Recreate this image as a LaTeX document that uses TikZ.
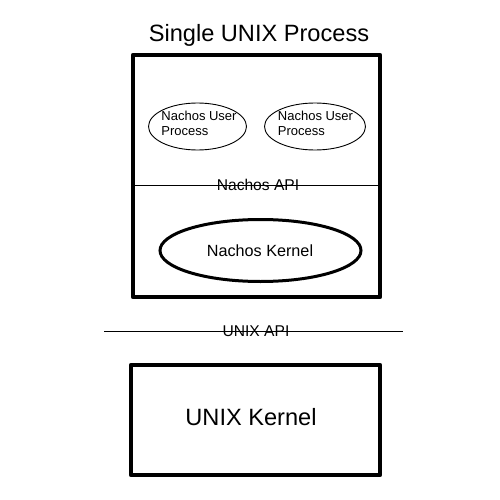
\documentclass[tikz,border=0pt]{standalone}
\usepackage{fontspec}
\setmainfont{Liberation Sans}
\usetikzlibrary{shapes.geometric}
\begin{document}
\begin{tikzpicture}[x=1pt,y=-1pt,
  thickbox/.style={draw,line width=4.2pt,line join=round},
  userproc/.style={draw,ellipse,line width=0.9pt,inner sep=0pt},
  kern/.style={draw,ellipse,line width=3pt,inner sep=0pt},
  apiline/.style={line width=0.9pt},
  utext/.style={inner sep=0pt,align=left,font=\fontsize{13}{15.2}\selectfont},
  lbl/.style={inner sep=0pt,font=\fontsize{15.6}{18}\selectfont},
  big/.style={inner sep=0pt,font=\fontsize{23.6}{28}\selectfont}]
\useasboundingbox (0,0) rectangle (500,500);
% title
\node[big] (title) at (259,35) {Single UNIX Process};
% outer process box
\draw[thickbox] (133,55) rectangle (380,297);
\coordinate (procL) at (133,185.7);
\coordinate (procR) at (380,185.7);
% user processes
\node[userproc,minimum width=98pt,minimum height=47pt] (up1) at (197.5,126.5) {};
\node[userproc,minimum width=101pt,minimum height=47pt] (up2) at (315,126.5) {};
\node[utext] (up1t) at (199,123.5) {Nachos User\\Process};
\node[utext] (up2t) at (315.5,123.5) {Nachos User\\Process};
% Nachos API
\node[lbl] (napi) at (258,185) {Nachos API};
\draw[apiline] (procL) -- (procR);
% Nachos kernel
\node[kern,minimum width=201pt,minimum height=62pt] (nk) at (260.5,250.5) {};
\node[inner sep=0pt,font=\fontsize{16.2}{19}\selectfont] (nkt) at (260,250.5) {Nachos Kernel};
% UNIX API
\coordinate (uapiL) at (104,331.5);
\coordinate (uapiR) at (403,331.5);
\node[lbl] (uapi) at (256,331) {UNIX API};
\draw[apiline] (uapiL) -- (uapiR);
% UNIX kernel
\node[thickbox,minimum width=249pt,minimum height=110pt,inner sep=0pt] (uk) at (255.5,420) {};
\node[big] (ukt) at (251,417) {UNIX Kernel};
\end{tikzpicture}
\end{document}
